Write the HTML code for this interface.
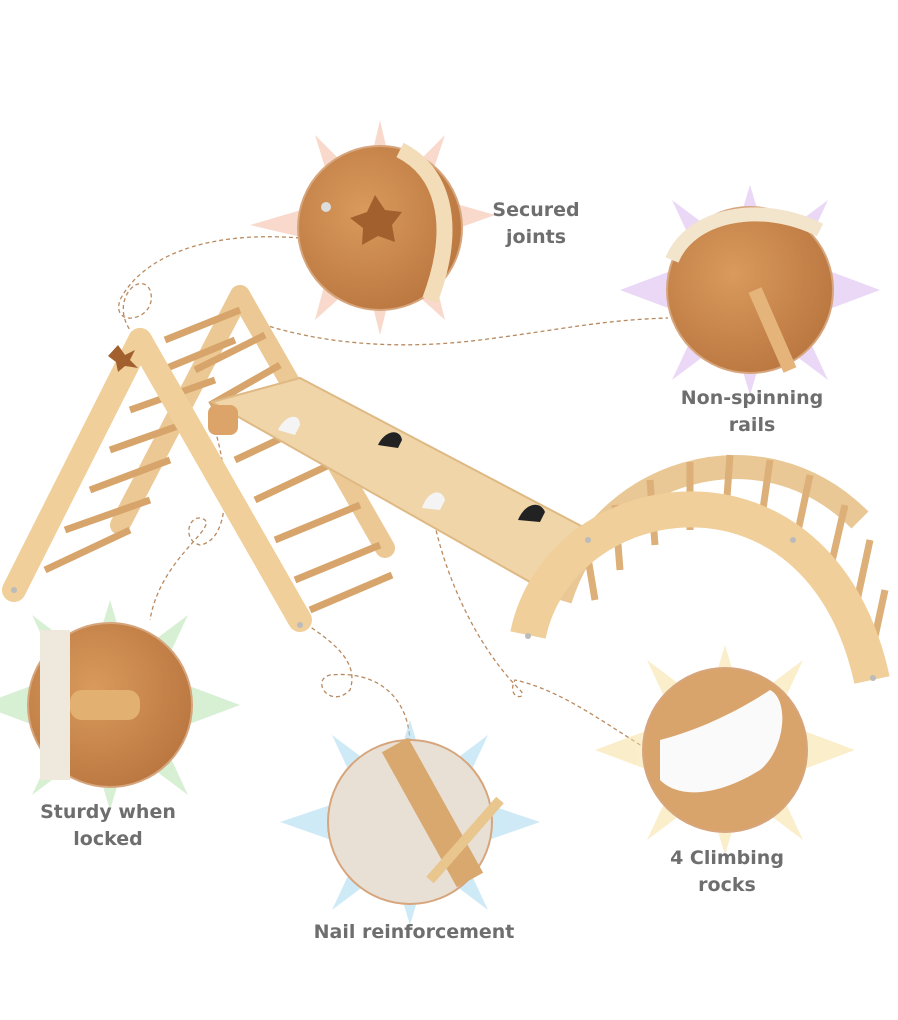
<!DOCTYPE html>
<html><head><meta charset="utf-8"><style>
html,body{margin:0;padding:0;background:#fff;}
svg{display:block}
text{font-family:"DejaVu Sans","Liberation Sans",sans-serif;font-weight:bold;fill:#6e6e6e;font-size:19px;text-anchor:middle}
</style></head><body>
<svg width="898" height="1020" viewBox="0 0 898 1020" xmlns="http://www.w3.org/2000/svg">
<defs>
<radialGradient id="w" cx="0.4" cy="0.4" r="0.7"><stop offset="0" stop-color="#d99a5c"/><stop offset="1" stop-color="#b8743e"/></radialGradient>
</defs>
<!-- dashed connectors -->
<g fill="none" stroke="#b98a60" stroke-width="1.3" stroke-dasharray="4,3">
<path d="M300,238 C200,230 140,260 120,300 C110,330 160,320 150,290 C140,270 110,300 130,330"/>
<path d="M250,320 C320,345 400,350 480,340 C560,330 600,320 668,318"/>
<path d="M215,430 C230,480 230,540 200,545 C180,540 190,510 205,520 C215,530 160,560 150,620"/>
<path d="M300,620 C330,640 360,660 350,690 C330,710 310,680 330,675 C380,670 410,700 410,745"/>
<path d="M432,510 C440,560 470,640 520,690 C530,700 505,700 515,680 C560,690 600,720 645,748"/>
</g>
<!-- starbursts -->
<g opacity="0.55">
<polygon points="380,120 395,185 445,135 425,195 495,215 425,240 445,320 395,275 380,335 365,275 315,320 335,245 250,225 335,200 315,135 365,185" fill="#f4b9a0"/>
<polygon points="750,185 768,245 828,200 800,260 880,290 800,320 828,380 768,335 750,395 732,335 672,380 700,320 620,290 700,260 672,200 732,245" fill="#d8b8ee"/>
<polygon points="110,600 128,660 188,615 160,675 240,705 160,735 188,795 128,750 110,810 92,750 32,795 60,735 -20,705 60,675 32,615 92,660" fill="#b6e3b0"/>
<polygon points="410,720 428,780 488,735 460,795 540,822 460,850 488,910 428,865 410,925 392,865 332,910 360,850 280,822 360,795 332,735 392,780" fill="#a8d8f0"/>
<polygon points="725,645 743,705 803,660 775,720 855,750 775,780 803,840 743,795 725,855 707,795 647,840 675,780 595,750 675,720 647,660 707,705" fill="#f6e0a0"/>
</g>
<!-- circles -->
<g stroke="#d7a57c" stroke-width="2">
<circle cx="380" cy="228" r="82" fill="url(#w)"/>
<circle cx="750" cy="290" r="83" fill="url(#w)"/>
<circle cx="110" cy="705" r="82" fill="url(#w)"/>
<circle cx="410" cy="822" r="82" fill="#e8e0d4"/>
<circle cx="725" cy="750" r="82" fill="#d9a46c"/>
</g>
<path d="M400,150 C440,170 460,220 430,300" stroke="#f3dcb8" stroke-width="16" fill="none"/>
<polygon points="375,195 385,210 402,212 392,225 395,242 378,236 362,245 363,228 350,218 367,212" fill="#a2602e"/>
<circle cx="326" cy="207" r="5" fill="#ddd"/>
<path d="M672,260 C690,215 760,200 820,230" stroke="#f3e4cc" stroke-width="14" fill="none"/>
<line x1="755" y1="290" x2="790" y2="370" stroke="#e4b47a" stroke-width="14"/>
<rect x="40" y="630" width="30" height="150" fill="#efe8dc"/>
<rect x="70" y="690" width="70" height="30" rx="12" fill="#e2b070"/>
<path d="M395,745 L470,880" stroke="#d9a86e" stroke-width="30"/>
<path d="M430,880 L500,800" stroke="#e8c68e" stroke-width="10"/>
<path d="M660,740 C700,730 740,710 770,690 C790,700 785,750 760,770 C720,795 680,800 660,780 Z" fill="#fafafa"/>
<!-- labels -->
<text x="536" y="216">Secured</text><text x="536" y="243">joints</text>
<text x="752" y="404">Non-spinning</text><text x="752" y="431">rails</text>
<text x="108" y="818">Sturdy when</text><text x="108" y="845">locked</text>
<text x="414" y="938">Nail reinforcement</text>
<text x="727" y="864">4 Climbing</text><text x="727" y="891">rocks</text>
<!-- back arch -->
<path d="M560,600 C600,470 760,420 860,520" stroke="#e9c896" stroke-width="24" fill="none"/>
<g stroke="#dcb078" stroke-width="7">
<line x1="585" y1="540" x2="595" y2="600"/><line x1="615" y1="505" x2="620" y2="570"/>
<line x1="650" y1="480" x2="655" y2="545"/><line x1="690" y1="462" x2="690" y2="530"/>
<line x1="730" y1="455" x2="725" y2="525"/><line x1="770" y1="460" x2="760" y2="530"/>
<line x1="810" y1="475" x2="795" y2="545"/><line x1="845" y1="505" x2="830" y2="570"/>
<line x1="870" y1="540" x2="855" y2="610"/><line x1="885" y1="590" x2="870" y2="660"/>
</g>
<!-- back ladder frame -->
<g stroke="#ecc994" stroke-width="20" stroke-linecap="round">
<line x1="240" y1="295" x2="120" y2="525"/><line x1="240" y1="295" x2="385" y2="548"/>
</g>
<!-- rungs -->
<g stroke="#d7a56c" stroke-width="7">
<line x1="165" y1="340" x2="240" y2="310"/><line x1="150" y1="375" x2="235" y2="340"/>
<line x1="130" y1="410" x2="215" y2="380"/><line x1="110" y1="450" x2="195" y2="420"/>
<line x1="90" y1="490" x2="170" y2="460"/><line x1="65" y1="530" x2="150" y2="500"/>
<line x1="45" y1="570" x2="130" y2="530"/>
<line x1="195" y1="370" x2="265" y2="335"/><line x1="210" y1="405" x2="280" y2="365"/>
<line x1="235" y1="460" x2="320" y2="420"/><line x1="255" y1="500" x2="340" y2="460"/>
<line x1="275" y1="540" x2="360" y2="505"/><line x1="295" y1="580" x2="380" y2="545"/>
<line x1="310" y1="610" x2="392" y2="575"/>
</g>
<!-- ramp -->
<polygon points="212,402 300,378 585,528 530,582" fill="#f0d5a8" stroke="#dfb984" stroke-width="2"/>
<polygon points="530,582 585,528 585,536 530,590" fill="#d9b07a"/>
<rect x="208" y="405" width="30" height="30" rx="8" fill="#dca468"/>
<path d="M278,430 C285,415 300,412 300,425 L295,435 Z" fill="#f4f4f4"/>
<path d="M378,445 C385,430 400,428 402,440 L398,448 Z" fill="#222"/>
<path d="M422,508 C428,490 442,488 445,500 L440,510 Z" fill="#f4f4f4"/>
<path d="M518,520 C525,503 540,500 545,512 L540,522 Z" fill="#222"/>
<!-- front A frame -->
<g stroke="#f0cf9a" stroke-width="24" stroke-linecap="round">
<line x1="140" y1="340" x2="14" y2="590"/><line x1="140" y1="340" x2="300" y2="620"/>
</g>
<polygon points="118,345 125,355 135,350 130,360 138,368 125,366 118,372 116,362 108,356" fill="#a2602e"/>
<!-- front arch -->
<path d="M528,635 C560,480 820,440 872,680" stroke="#f0cf9a" stroke-width="36" fill="none"/>
<g fill="#bbb"><circle cx="588" cy="540" r="3"/><circle cx="793" cy="540" r="3"/><circle cx="528" cy="636" r="3"/><circle cx="873" cy="678" r="3"/><circle cx="300" cy="625" r="3"/><circle cx="14" cy="590" r="3"/></g>
</svg>
</body></html>
